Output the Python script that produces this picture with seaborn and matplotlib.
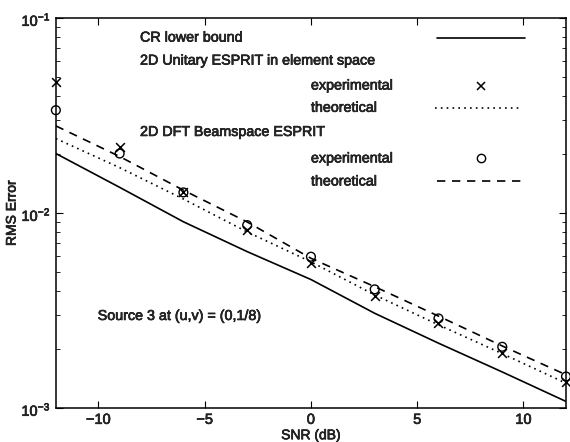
import matplotlib
matplotlib.use("Agg")
import matplotlib.pyplot as plt
import matplotlib.patheffects as pe
import numpy as np
import pandas as pd
import seaborn as sns
from matplotlib.lines import Line2D
from matplotlib.ticker import LogLocator, NullFormatter

snr = [-12, -9, -6, -3, 0, 3, 6, 9, 12]
crb = [0.0202, 0.01355, 0.00902, 0.00634, 0.00456, 0.00306, 0.00215, 0.00153, 0.00108]
unitary_theory = [0.0241, 0.0171, 0.0118, 0.0080, 0.00562, 0.0038, 0.00267, 0.0019, 0.00134]
unitary_exp = [0.047, 0.0219, 0.01276, 0.00818, 0.00556, 0.00375, 0.00272, 0.00192, 0.00136]
dft_theory = [0.0280, 0.0195, 0.0131, 0.0090, 0.00586, 0.00419, 0.00296, 0.00208, 0.00148]
dft_exp = [0.0337, 0.0202, 0.01276, 0.00867, 0.00597, 0.00406, 0.00288, 0.00206, 0.00145]

df = pd.DataFrame({"snr": snr, "crb": crb, "ut": unitary_theory, "ue": unitary_exp,
                   "dt": dft_theory, "de": dft_exp})

sns.set_style("ticks")
plt.rcParams["font.family"] = ["Liberation Sans", "DejaVu Sans"]
plt.rcParams["mathtext.fontset"] = "custom"
plt.rcParams["mathtext.rm"] = "Liberation Sans"

fig = plt.figure(figsize=(5.7, 4.42), dpi=100)
ax = fig.add_axes([0.098, 0.077, 0.895, 0.882])

sns.lineplot(data=df, x="snr", y="crb", color="black", lw=1.2, ax=ax)
sns.lineplot(data=df, x="snr", y="ut", color="black", lw=1.2, ax=ax, linestyle=(0, (1, 2.5)))
sns.lineplot(data=df, x="snr", y="dt", color="black", lw=1.2, ax=ax, linestyle=(0, (5, 4)))
sns.scatterplot(data=df, x="snr", y="ue", marker="x", color="black", s=40, linewidth=1.1, ax=ax,
                clip_on=False, zorder=5)
sns.scatterplot(data=df, x="snr", y="de", marker="o", facecolor="none", edgecolor="black",
                s=40, linewidth=1.0, ax=ax, clip_on=False, zorder=5)

ax.set_yscale("log")
ax.set_xlim(-12, 12)
ax.set_ylim(1e-3, 1e-1)
ax.set_xticks([-10, -5, 0, 5, 10])
ax.set_xticklabels(["\u221210", "\u22125", "0", "5", "10"])
ax.yaxis.set_major_locator(LogLocator(base=10))
ax.yaxis.set_minor_locator(LogLocator(base=10, subs=np.arange(2, 10)))
ax.yaxis.set_minor_formatter(NullFormatter())
ax.tick_params(which="both", direction="in", top=True, right=True, labelsize=10.5, color="black")
ax.tick_params(which="major", length=5)
ax.tick_params(which="minor", length=3)
for s in ax.spines.values():
    s.set_linewidth(1.1)
    s.set_color("black")

bold = [pe.withStroke(linewidth=0.45, foreground="black")]
for t in ax.get_xticklabels() + ax.get_yticklabels():
    t.set_path_effects(bold)

ax.set_xlabel("SNR (dB)", fontsize=10, labelpad=1, path_effects=bold)
ax.set_ylabel("RMS Error", fontsize=10, labelpad=2, path_effects=bold)

# legend block, MATLAB style
fs = 10.3
tr = ax.transAxes
def lab(x, y, t):
    ax.text(x, y, t, transform=tr, fontsize=fs, va="center", ha="left", path_effects=bold)

lab(0.165, 0.950, "CR lower bound")
lab(0.165, 0.891, "2D Unitary ESPRIT in element space")
lab(0.500, 0.827, "experimental")
lab(0.500, 0.770, "theoretical")
lab(0.165, 0.708, "2D DFT Beamspace ESPRIT")
lab(0.500, 0.640, "experimental")
lab(0.500, 0.581, "theoretical")

ax.add_line(Line2D([0.747, 0.920], [0.950, 0.950], transform=tr, color="black", lw=1.2))
ax.add_line(Line2D([0.833], [0.827], transform=tr, color="black", marker="x", ms=6, mew=1.1, ls="none"))
ax.add_line(Line2D([0.743, 0.914], [0.770, 0.770], transform=tr, color="black", lw=1.2,
                   linestyle=(0, (1, 2.5))))
ax.add_line(Line2D([0.833], [0.640], transform=tr, color="black", marker="o", ms=6, mew=1.0,
                   mfc="none", ls="none"))
ax.add_line(Line2D([0.747, 0.914], [0.581, 0.581], transform=tr, color="black", lw=1.2,
                   linestyle=(0, (5, 4))))

ax.text(0.082, 0.236, "Source 3 at (u,v) = (0,1/8)", transform=tr, fontsize=fs, va="center",
        path_effects=bold)

fig.savefig("out.png", dpi=100)
